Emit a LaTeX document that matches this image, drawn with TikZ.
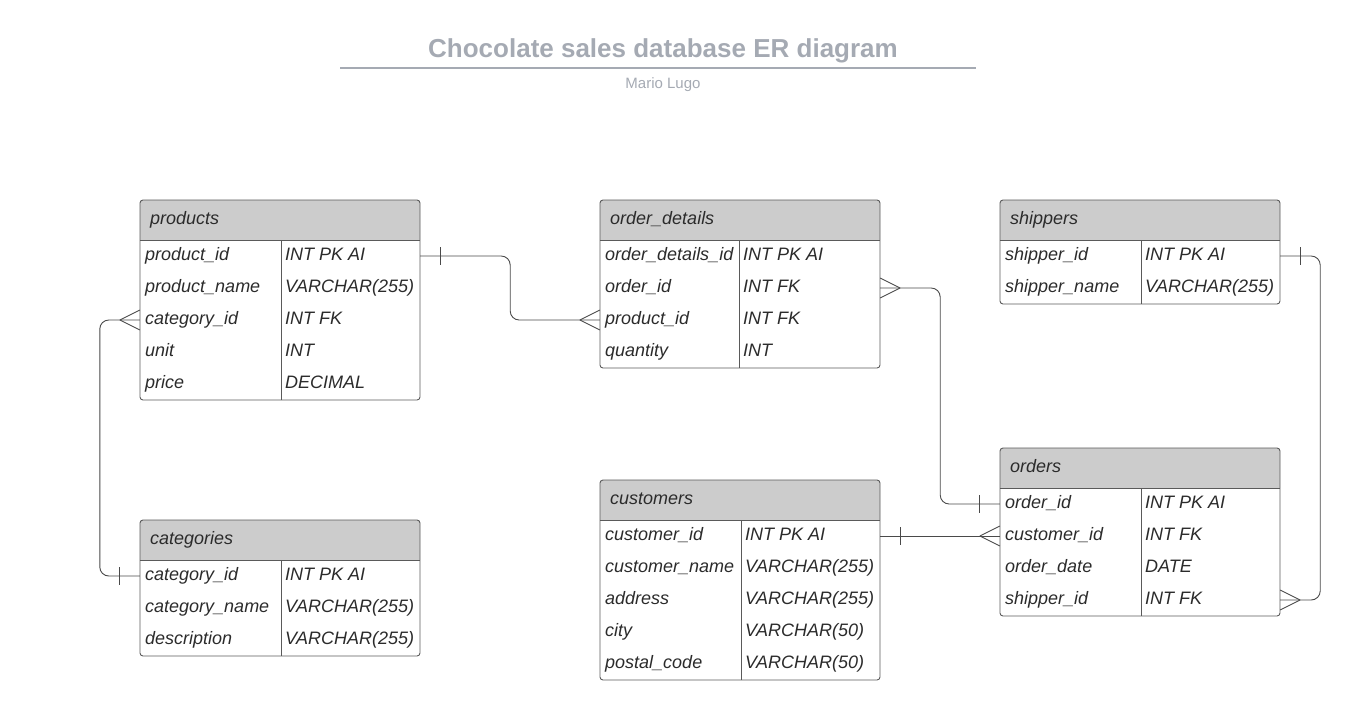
\documentclass[tikz,border=0pt]{standalone}
\usepackage{fontspec}
\setmainfont{Liberation Sans}
\definecolor{bordercol}{HTML}{5A5A5A}
\definecolor{hdrcol}{HTML}{CCCCCC}
\definecolor{textcol}{HTML}{2B2B2B}
\definecolor{titlecol}{HTML}{A5AAB3}
\definecolor{linecol}{HTML}{4A4A4A}
\tikzset{
  tblframe/.style={draw=bordercol, line width=0.9pt},
  rowbox/.style={minimum width=280pt, minimum height=32pt, inner sep=0pt, draw=none},
  cell/.style={anchor=base west, inner sep=0pt, text=textcol, font=\itshape\fontsize{18}{21}\selectfont},
  hdrtext/.style={anchor=base west, inner sep=0pt, text=textcol, font=\itshape\fontsize{18}{21}\selectfont},
  conn/.style={draw=linecol, line width=0.9pt, rounded corners=9pt},
  erk/.style={draw=linecol, line width=0.9pt},
}
% #1 name, #2 x, #3 y, #4 rows, #5 divider offset, #6 title, #7 rows list
\newcommand\ertable[7]{%
  \begin{scope}[shift={(#2,#3)}]
    \path[fill=hdrcol] (0,40) [rounded corners=3pt] -- (0,0) -- (280,0) [sharp corners] -- (280,40) -- cycle;
    \draw[tblframe] (0,40) -- (280,40);
    \draw[tblframe] (#5,40) -- (#5,40+32*#4);
    \draw[tblframe, rounded corners=3pt] (0,0) rectangle (280,40+32*#4);
    \node[hdrtext] (#1-title) at (10,24) {#6};
    \foreach [count=\i] \a/\b in {#7} {
      \node[rowbox] (#1-\i) at (140,40+32*\i-16) {};
      \node[cell] (#1-\i-a) at (5,40+32*\i-12) {\a};
      \node[cell] (#1-\i-b) at (#5+4,40+32*\i-12) {\b};
    }
  \end{scope}}
\newcommand\crowW[1]{\draw[erk] ([xshift=-20pt]#1.west) -- ([yshift=10pt]#1.west) ([xshift=-20pt]#1.west) -- ([yshift=-10pt]#1.west);}
\newcommand\crowE[1]{\draw[erk] ([xshift=20pt]#1.east) -- ([yshift=10pt]#1.east) ([xshift=20pt]#1.east) -- ([yshift=-10pt]#1.east);}
\newcommand\barW[1]{\draw[erk] ([xshift=-20pt,yshift=9pt]#1.west) -- ([xshift=-20pt,yshift=-9pt]#1.west);}
\newcommand\barE[1]{\draw[erk] ([xshift=20pt,yshift=9pt]#1.east) -- ([xshift=20pt,yshift=-9pt]#1.east);}
\begin{document}
\begin{tikzpicture}[x=1pt,y=-1pt]
\useasboundingbox (0,0) rectangle (1368,721);
% title
\node[font=\bfseries\fontsize{26}{30}\selectfont, text=titlecol, inner sep=0pt, anchor=base] (title) at (663,57) {Chocolate sales database ER diagram};
\coordinate (ulL) at (340,68);
\coordinate (ulR) at (976,68);
\draw[titlecol, line width=2pt] (ulL) -- (ulR);
\node[font=\fontsize{15}{17}\selectfont, text=titlecol, inner sep=0pt, anchor=base] (author) at (663,88) {Mario Lugo};

\ertable{products}{140}{200}{5}{141}{products}{product\_id/INT PK AI, product\_name/VARCHAR(255), category\_id/INT FK, unit/INT, price/DECIMAL}
\ertable{orderdetails}{600}{200}{4}{139}{order\_details}{order\_details\_id/INT PK AI, order\_id/INT FK, product\_id/INT FK, quantity/INT}
\ertable{shippers}{1000}{200}{2}{141}{shippers}{shipper\_id/INT PK AI, shipper\_name/VARCHAR(255)}
\ertable{orders}{1000}{448}{4}{141}{orders}{order\_id/INT PK AI, customer\_id/INT FK, order\_date/DATE, shipper\_id/INT FK}
\ertable{customers}{600}{480}{5}{141}{customers}{customer\_id/INT PK AI, customer\_name/VARCHAR(255), address/VARCHAR(255), city/VARCHAR(50), postal\_code/VARCHAR(50)}
\ertable{categories}{140}{520}{3}{141}{categories}{category\_id/INT PK AI, category\_name/VARCHAR(255), description/VARCHAR(255)}

% connectors
\draw[conn] (products-1.east) -- ++(90,0) |- (orderdetails-3.west);
\barE{products-1}
\crowW{orderdetails-3}

\draw[conn] (orderdetails-2.east) -- ++(60,0) |- (orders-1.west);
\crowE{orderdetails-2}
\barW{orders-1}

\draw[conn] (customers-1.east) -- (orders-2.west);
\barE{customers-1}
\crowW{orders-2}

\draw[conn] (shippers-1.east) -- ++(40,0) |- (orders-4.east);
\barE{shippers-1}
\crowE{orders-4}

\draw[conn] (categories-1.west) -- ++(-40,0) |- (products-3.west);
\barW{categories-1}
\crowW{products-3}
\end{tikzpicture}
\end{document}
